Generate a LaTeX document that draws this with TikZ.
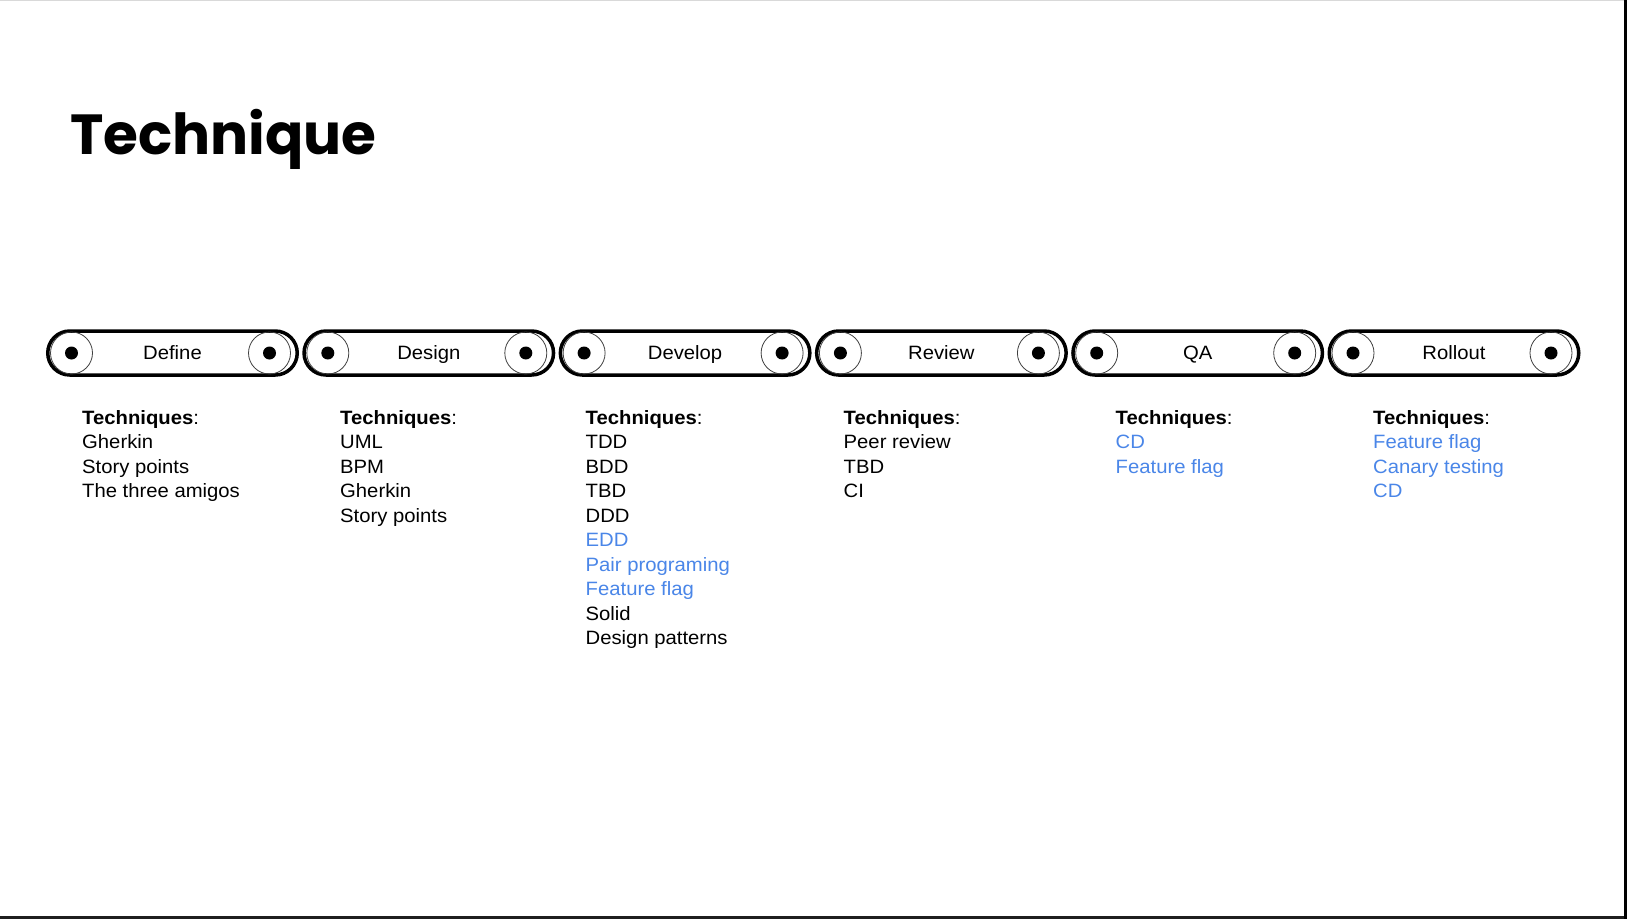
\documentclass[tikz,border=0pt]{standalone}
\usepackage{fontspec}
\setmainfont{Liberation Sans}[FakeStretch=1.05]
\newfontfamily\titlefont{Poppins}
\definecolor{linkblue}{HTML}{4A86E8}
\newcommand{\lk}[1]{\textcolor{linkblue}{#1}}
\begin{document}
\begin{tikzpicture}[x=1pt,y=-1pt,
    belt/.style={rectangle,rounded corners=22pt,draw,line width=3.5pt,minimum width=249.5pt,minimum height=44pt,
      font=\fontsize{19.3}{24.5}\selectfont,text height=13.8pt,text depth=0pt},
    roller/.style={circle,draw=black!75,line width=0.8pt,minimum size=42pt,inner sep=0pt},
    techlist/.style={anchor=north west,align=left,inner sep=0pt,font=\fontsize{19.3}{24.5}\selectfont}]
    \fill[white] (0,0) rectangle (1627,919);
    \useasboundingbox (0,0) rectangle (1627,919);
    \fill[black!15] (0,0) rectangle (1627,1.2);
    \fill[black!88] (0,915.8) rectangle (1627,919);
    \fill[black] (1624,0) rectangle (1627,919);
    % title
    \node[anchor=base west,inner sep=0pt,font=\titlefont\bfseries\fontsize{56.5}{66}\selectfont] (title) at (70,154) {Technique};
    % conveyor belts
    \foreach \name [count=\i from 0] in {Define,Design,Develop,Review,QA,Rollout}{
      \node[belt] (belt\i) at (172.5+256.3*\i,353) {\name};
      \node[roller] (rl\i) at ([xshift=-101pt]belt\i.center) {};
      \node[roller] (rr\i) at ([xshift=97pt]belt\i.center) {};
      \fill (rl\i) circle[radius=6.5pt];
      \fill (rr\i) circle[radius=6.5pt];
    }
    % techniques per stage
    \node[techlist] (list0) at (82,410) {\textbf{Techniques}:\\Gherkin\\Story points\\The three amigos};
    \node[techlist] (list1) at (340,410) {\textbf{Techniques}:\\UML\\BPM\\Gherkin\\Story points};
    \node[techlist] (list2) at (585.5,410) {\textbf{Techniques}:\\TDD\\BDD\\TBD\\DDD\\\lk{EDD}\\\lk{Pair programing}\\\lk{Feature flag}\\Solid\\Design patterns};
    \node[techlist] (list3) at (843.5,410) {\textbf{Techniques}:\\Peer review\\TBD\\CI};
    \node[techlist] (list4) at (1115.5,410) {\textbf{Techniques}:\\\lk{CD}\\\lk{Feature flag}};
    \node[techlist] (list5) at (1373,410) {\textbf{Techniques}:\\\lk{Feature flag}\\\lk{Canary testing}\\\lk{CD}};
\end{tikzpicture}
\end{document}
